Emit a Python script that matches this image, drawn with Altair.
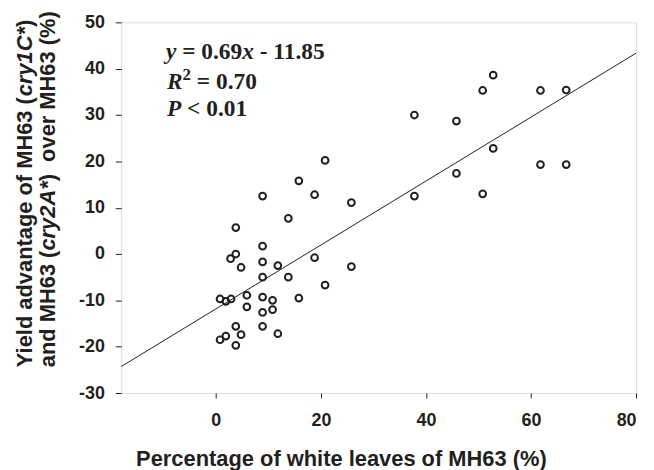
import altair as alt
import pandas as pd

# ---------------- data ----------------
white_pct = [20.8, 15.8, 8.9, 18.8, 25.8, 13.8, 3.8, 8.9, 3.8, 2.8,
             8.9, 11.8, 4.8, 18.8, 25.8, 8.9, 13.8, 20.8, 0.8, 1.9,
             2.9, 5.9, 8.9, 10.8, 15.8, 5.9, 10.8, 8.9, 3.8, 8.9,
             1.9, 4.8, 11.8, 0.8, 3.8,
             37.8, 45.8, 50.8, 52.8, 61.8, 66.7, 52.8, 45.8, 37.8, 50.8, 61.8, 66.7]
yield_adv = [20.2, 15.8, 12.5, 12.8, 11.1, 7.7, 5.7, 1.7, 0.0, -1.0,
             -1.7, -2.5, -2.9, -0.8, -2.7, -5.0, -5.0, -6.7, -9.7, -10.2,
             -9.7, -8.9, -9.3, -10.0, -9.5, -11.4, -12.0, -12.6, -15.6, -15.6,
             -17.7, -17.4, -17.2, -18.5, -19.7,
             30.0, 28.7, 35.3, 38.6, 35.3, 35.4, 22.8, 17.4, 12.5, 13.0, 19.3, 19.3]
slope = 0.69
intercept = -11.85
x_domain = [-18, 80]
y_domain = [-30, 50]
x_ticks = [0, 20, 40, 60, 80]
y_ticks = [-30, -20, -10, 0, 10, 20, 30, 40, 50]

eq_line1 = [("y", "italic"), (" = 0.69", "normal"), ("x", "italic"), (" - 11.85", "normal")]
eq_line2 = [("R", "italic"), ("2", "sup"), (" = 0.70", "normal")]
eq_line3 = [("P", "italic"), (" < 0.01", "normal")]
y_title_1 = [("Yield advantage of MH63 (", "normal"), ("cry1C*", "italic"), (")", "normal")]
y_title_2 = [("and MH63 (", "normal"), ("cry2A", "italic"), ("*", "italic"), (")", "normal"),
             ("  over MH63 (%)", "normal")]
x_title = "Percentage of white leaves of MH63 (%)"

# ---------------- layout ----------------
W, H = 518, 373
INK = "#231f20"
SANS = "Liberation Sans"
SERIF = "Liberation Serif"

times_bold = {' ': 250, '=': 570, '<': 570, '.': 250, '-': 333, 'y': 444, 'x': 500,
              'R': 667, 'P': 611}
for d in "0123456789":
    times_bold[d] = 500
arial_bold = {' ': 278, 'Y': 667, 'i': 278, 'e': 556, 'l': 278, 'd': 611, 'a': 556,
              'v': 556, 'n': 611, 't': 333, 'g': 611, 'o': 611, 'f': 333, 'M': 833,
              'H': 722, '(': 333, ')': 333, '%': 889, 'r': 389, 'c': 556, 'y': 556,
              'C': 722, '*': 389, 'A': 722, 'w': 778, 'h': 611, 's': 556}
for d in "0123456789":
    arial_bold[d] = 556


def width(text, table, size):
    return sum(table.get(ch, 556) for ch in text) * size / 1000.0


def layers_for(segments, x0, y0, table, font, size, sup_size=None, sup_rise=0, angle=0):
    out = []
    off = 0.0
    for text, style in segments:
        fs = sup_size if style == "sup" else size
        lead = len(text) - len(text.lstrip(" "))
        off += width(text[:lead], table, fs)
        shown = text.strip(" ")
        if angle == 0:
            px, py = x0 + off, y0 - (sup_rise if style == "sup" else 0)
        else:
            px, py = x0, y0 - off
        kw = dict(font=font, fontSize=fs, fontWeight="bold", color=INK,
                  align="left", baseline="alphabetic",
                  fontStyle="italic" if style == "italic" else "normal")
        if angle:
            kw["angle"] = angle
        out.append(
            alt.Chart(pd.DataFrame({"t": [shown]}))
            .mark_text(**kw)
            .encode(x=alt.value(px), y=alt.value(py), text="t:N")
        )
        off += width(text[lead:], table, fs)
    return out


pts = pd.DataFrame({"x": white_pct, "y": yield_adv})
line_df = pd.DataFrame({"x": x_domain, "y": [slope * v + intercept for v in x_domain]})

xs = alt.Scale(domain=x_domain, nice=False, zero=False)
ys = alt.Scale(domain=y_domain, nice=False, zero=False)

x_axis = alt.Axis(values=x_ticks, title=x_title, grid=False, domain=False,
                  tickColor=INK, tickSize=5, tickWidth=1,
                  labelFont=SANS, labelFontWeight="bold", labelFontSize=18,
                  labelColor=INK, labelPadding=14, labelExpr="'' + datum.value",
                  titleFont=SANS, titleFontWeight="bold", titleFontSize=22,
                  titleColor=INK, titleX=221, titleY=73, titleBaseline="alphabetic",
                  titleAlign="center")
y_axis = alt.Axis(values=y_ticks, title=None, grid=False, domain=False,
                  tickColor=INK, tickSize=6, tickWidth=1,
                  labelFont=SANS, labelFontWeight="bold", labelFontSize=18,
                  labelColor=INK, labelPadding=11, labelExpr="'' + datum.value")

points = alt.Chart(pts).mark_point(shape="circle", filled=False, stroke=INK,
                                   strokeWidth=2, size=46, opacity=1).encode(
    x=alt.X("x:Q", scale=xs, axis=x_axis),
    y=alt.Y("y:Q", scale=ys, axis=y_axis),
)
reg = alt.Chart(line_df).mark_line(color=INK, strokeWidth=1).encode(
    x=alt.X("x:Q", scale=xs), y=alt.Y("y:Q", scale=ys))

anno = []
anno += layers_for(eq_line1, 45, 37, times_bold, SERIF, 23.5)
anno += layers_for(eq_line2, 46, 67.5, times_bold, SERIF, 23.5, sup_size=17, sup_rise=9)
anno += layers_for(eq_line3, 46, 94.5, times_bold, SERIF, 23.5)
anno += layers_for(y_title_1, -90, 347, arial_bold, SANS, 22, angle=270)
anno += layers_for(y_title_2, -66.5, 347, arial_bold, SANS, 22, angle=270)

chart = alt.layer(reg, points, *anno).properties(
    width=W, height=H,
    autosize=alt.AutoSizeParams(type="none"),
    padding={"left": 114, "top": 13, "right": 10, "bottom": 76},
).configure_view(stroke=INK, strokeWidth=1).configure(background="white")

chart.save("out.html", embed_options={"renderer": "svg", "actions": False})
